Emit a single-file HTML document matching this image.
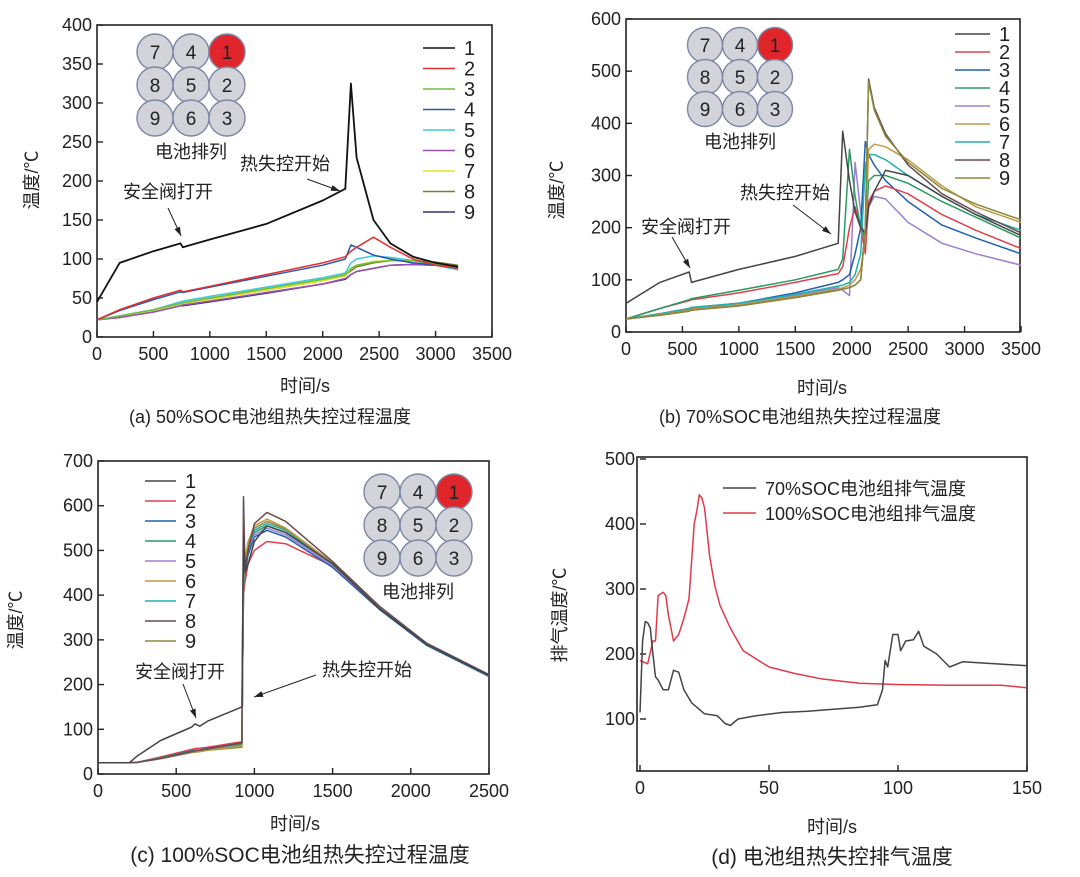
<!DOCTYPE html>
<html><head><meta charset="utf-8"><style>
body{margin:0;background:#fff;}
svg{display:block;font-family:"Liberation Sans","Noto Sans CJK SC",sans-serif;}
</style></head><body>
<svg id="fig" width="1080" height="877" viewBox="0 0 1080 877" xmlns="http://www.w3.org/2000/svg"></svg>
<script>
// ---- Panel a data (50% SOC) ----
const tA=[0,200,500,740,760,1000,1500,2000,2200,2250,2300,2450,2600,2800,3000,3200];
const a1=[45,95,110,120,115,125,145,175,190,325,230,150,120,103,95,90];
const a2=[22,35,50,60,58,65,80,95,103,110,115,128,115,100,92,88];
const a3=[22,27,35,43,44,50,62,74,80,88,92,96,98,98,94,88];
const a4=[22,34,48,58,57,64,78,92,100,118,115,105,100,95,92,88];
const a5=[22,27,35,45,46,52,64,76,82,95,100,104,102,98,92,86];
const a6=[22,25,32,40,41,46,57,68,75,80,84,88,92,93,92,88];
const a7=[22,26,33,42,43,48,60,72,78,88,92,97,98,97,94,90];
const a8=[22,26,34,42,43,49,60,72,79,85,90,95,98,98,96,92];
const a9=[22,25,32,40,40,45,56,68,74,80,84,88,92,93,92,90];
const aTicksX=[0,500,1000,1500,2000,2500,3000,3500];
const aTicksY=[0,50,100,150,200,250,300,350,400];
// ---- Panel b data (70% SOC) ----
const tB=[0,300,560,580,1000,1500,1880,1920,1980,2030,2080,2120,2150,2200,2300,2500,2800,3100,3500];
const b1=[55,95,115,95,120,145,170,385,290,230,200,190,240,270,310,300,260,225,185];
const b2=[25,45,60,62,75,95,112,125,200,240,200,150,250,270,280,265,225,195,160];
const b3=[25,35,45,47,55,75,95,100,110,150,200,365,340,320,290,250,205,180,150];
const b4=[25,45,62,64,80,100,120,140,350,260,200,180,290,300,300,285,250,220,180];
const b5=[25,33,43,45,55,70,85,80,70,325,230,160,240,260,255,210,170,150,128];
const b6=[25,33,42,44,52,68,82,85,90,100,120,180,350,360,355,330,280,240,210];
const b7=[25,35,45,47,55,72,88,90,95,110,150,320,340,340,330,300,260,225,195];
const b8=[25,32,40,42,50,66,80,82,85,90,100,200,485,430,380,320,265,230,190];
const b9=[25,32,40,42,50,66,80,82,85,90,100,200,480,425,375,325,275,245,215];
const bTicksX=[0,500,1000,1500,2000,2500,3000,3500];
const bTicksY=[0,100,200,300,400,500,600];
// ---- Panel c data (100% SOC) ----
const tC=[0,200,250,400,600,620,650,700,920,930,940,960,1000,1080,1200,1500,1800,2100,2500];
const c1=[25,25,40,75,105,112,107,118,150,530,450,470,520,555,540,470,370,290,220];
const c2=[25,25,26,38,55,57,58,60,72,400,430,470,500,520,515,465,370,290,220];
const c3=[25,25,26,36,52,53,54,57,68,420,450,490,530,545,530,462,368,288,218];
const c4=[25,25,26,36,51,52,53,56,66,430,460,500,540,555,540,470,374,292,222];
const c5=[25,25,26,35,50,51,52,55,64,440,470,505,535,550,535,466,371,290,220];
const c6=[25,25,26,34,49,50,51,54,62,450,480,520,555,570,550,472,373,291,221];
const c7=[25,25,26,35,50,51,52,55,63,440,470,510,545,560,545,470,372,290,220];
const c8=[25,25,26,35,50,52,53,56,70,620,460,500,560,585,565,475,375,293,222];
const c9=[25,25,26,34,48,49,50,53,60,445,475,515,550,565,548,472,374,292,222];
const cTicksX=[0,500,1000,1500,2000,2500];
const cTicksY=[0,100,200,300,400,500,600,700];
// ---- Panel d data (exhaust temperature) ----
const tD70=[0,1,2,3,4,5,6,7,9,11,13,15,17,20,25,30,33,35,38,45,55,65,75,85,92,94,95,96,98,100,101,103,106,108,110,115,120,125,150];
const d70=[110,220,250,248,240,200,165,160,145,145,175,172,145,125,108,105,93,90,100,105,110,112,115,118,122,145,190,180,230,230,205,220,222,235,212,200,180,188,182];
const tD100=[0,3,5,6,7,9,10,11,12,13,15,17,19,21,22,23,24,25,27,29,31,35,40,50,60,70,85,100,120,140,150];
const d100=[190,185,220,220,290,295,290,260,240,220,230,255,285,400,420,445,440,425,350,305,275,240,205,180,170,162,155,153,152,152,148];
const dTicksX=[0,50,100,150];
const dTicksY=[100,200,300,400,500];

const NS="http://www.w3.org/2000/svg";
const svg=document.getElementById('fig');
function mk(tag,attrs,parent){const e=document.createElementNS(NS,tag);for(const k in attrs)e.setAttribute(k,attrs[k]);(parent||svg).appendChild(e);return e;}
function txt(x,y,s,size,anchor,parent){const t=mk('text',{x:x,y:y,'font-size':size,'text-anchor':anchor||'middle',fill:'#222'},parent);t.textContent=s;return t;}

function panel(id,box,xd,yd,ticksX,ticksY,xTitle,yTitle,yTitlePos,xTitlePos){
  const g=mk('g',{});
  
  
  const X=v=>box.x0+(v-xd[0])/(xd[1]-xd[0])*(box.x1-box.x0);
  const Y=v=>box.y0-(v-yd[0])/(yd[1]-yd[0])*(box.y0-box.y1);
  const r=mk('rect',{x:box.x0,y:box.top,width:box.x1r-box.x0,height:box.bottom-box.top,fill:'none',stroke:'#222','stroke-width':1.6},g);
  
  
  ticksX.forEach(v=>{mk('line',{x1:X(v),x2:X(v),y1:box.bottom,y2:box.bottom-6,stroke:'#222','stroke-width':1.4},g);
    const t=txt(X(v),box.bottom+23,String(v),18,'middle',g);});
  ticksY.forEach(v=>{mk('line',{x1:box.x0,x2:box.x0+6,y1:Y(v),y2:Y(v),stroke:'#222','stroke-width':1.4},g);
    const t=txt(box.x0-5,Y(v)+6,String(v),18,'end',g);});
  const xt=txt(xTitlePos[0],xTitlePos[1],xTitle,18,'middle',g);
  
  const yt=txt(0,0,yTitle,18,'middle',g);
  yt.setAttribute('transform','translate('+yTitlePos[0]+','+yTitlePos[1]+') rotate(-90)');
  
  return {g,X,Y};
}
function series(p,ts,vs,color,name,w){
  const d=ts.map((t,i)=>(i?'L':'M')+p.X(t).toFixed(1)+','+p.Y(vs[i]).toFixed(1)).join('');
  const e=mk('path',{d:d,fill:'none',stroke:color,'stroke-width':w||1.5,'stroke-linejoin':'round'},p.g);
  
  
}
function legend(g,x,y0,step,labels,colors,len,size){
  labels.forEach((l,i)=>{const y=y0+i*step;
    const ln=mk('line',{x1:x,x2:x+len,y1:y,y2:y,stroke:colors[i],'stroke-width':1.6},g);
    
    const t=txt(x+len+9,y+7,l,size||20,'start',g);
    });
}
function cells(g,cx,cy,step){
  const nums=[['7','4','1'],['8','5','2'],['9','6','3']];
  for(let r=0;r<3;r++)for(let c=0;c<3;c++){
    const red=nums[r][c]==='1';
    const ci=mk('circle',{cx:cx+c*step,cy:cy+r*(step-3),r:step/2,fill:red?'#e0262a':'#d2d4da',stroke:'#7c87a6','stroke-width':1.4},g);
    
    txt(cx+c*step,cy+r*(step-3)+7,nums[r][c],19,'middle',g);
  }
  const t=txt(cx+step,cy+2*(step-3)+step+4,'电池排列',18,'middle',g);
  
}
function annot(g,x,y,s,ax1,ay1,ax2,ay2){
  const t=txt(x,y,s,18,'start',g);
  const l=mk('line',{x1:ax1,y1:ay1,x2:ax2,y2:ay2,stroke:'#222','stroke-width':1},g);
  
  const ang=Math.atan2(ay2-ay1,ax2-ax1),L=9,W=3;
  const p=[[ax2,ay2],[ax2-L*Math.cos(ang)+W*Math.sin(ang),ay2-L*Math.sin(ang)-W*Math.cos(ang)],[ax2-L*Math.cos(ang)-W*Math.sin(ang),ay2-L*Math.sin(ang)+W*Math.cos(ang)]];
  mk('polygon',{points:p.map(q=>q.join(',')).join(' '),fill:'#222'},g);
}
function caption(x,y,s,size){const t=txt(x,y,s,size,'middle');}

// Panel a
const colA=['#111','#e03030','#6cc040','#2a56b0','#40c8d8','#9a50b0','#e8e030','#7a7a30','#3a3070'];
const pa=panel('a',{x0:97,x1:492,x1r:492,y0:337,y1:25,top:25,bottom:337},[0,3500],[0,400],aTicksX,aTicksY,'时间/s','温度/℃',[38,180],[305,392]);
[a9,a8,a7,a6,a5,a3,a4,a2].forEach((s,i)=>series(pa,tA,s,colA[[8,7,6,5,4,2,3,1][i]],'series-a-'+([9,8,7,6,5,3,4,2][i])));
series(pa,tA,a1,colA[0],'series-a-1',1.8);
cells(pa.g,155,52,36);
legend(pa.g,423,48,20.5,['1','2','3','4','5','6','7','8','9'],colA,32,20);
annot(pa.g,123,198,'安全阀打开',168,208,181,236);
annot(pa.g,240,170,'热失控开始',307,179,340,191);
caption(270,423,'(a) 50%SOC电池组热失控过程温度',18);

// Panel b
const colB=['#444','#e04050','#2060b0','#2a9a60','#9a80d0','#c09a40','#20b0b0','#6a4a50','#8a8a40'];
const pb=panel('b',{x0:626,x1:1021,x1r:1020,y0:332,y1:19,top:19,bottom:332},[0,3500],[0,600],bTicksX,bTicksY,'时间/s','温度/℃',[563,190],[822,394]);
[b5,b3,b2,b4,b7,b6,b1,b8,b9].forEach((s,i)=>series(pb,tB,s,colB[[4,2,1,3,6,5,0,7,8][i]],'series-b-'+([5,3,2,4,7,6,1,8,9][i])));
cells(pb.g,705,45,35);
legend(pb.g,955,34,18,['1','2','3','4','5','6','7','8','9'],colB,35,20);
annot(pb.g,740,199,'热失控开始',793,205,831,234);
annot(pb.g,641,233,'安全阀打开',672,237,690,268);
caption(800,423,'(b) 70%SOC电池组热失控过程温度',18);

// Panel c
const pc=panel('c',{x0:98,x1:489,x1r:489,y0:774,y1:461,top:461,bottom:774},[0,2500],[0,700],cTicksX,cTicksY,'时间/s','温度/℃',[22,620],[295,830]);
[c2,c3,c4,c5,c7,c9,c6,c8,c1].forEach((s,i)=>series(pc,tC,s,colB[[1,2,3,4,6,8,5,7,0][i]],'series-c-'+([2,3,4,5,7,9,6,8,1][i])));
cells(pc.g,382,492,36);
legend(pc.g,145,481,20,['1','2','3','4','5','6','7','8','9'],colB,31,20);
annot(pc.g,135,678,'安全阀打开',183,684,196,718);
annot(pc.g,322,676,'热失控开始',316,675,254,697);
caption(300,862,'(c) 100%SOC电池组热失控过程温度',21);

// Panel d
const pd=panel('d',{x0:640,x1:1027,x1r:1027,y0:784,y1:459,top:457,bottom:771},[0,150],[0,500],dTicksX,dTicksY,'时间/s','排气温度/℃',[566,615],[832,833]);
pd.g.querySelector('rect').setAttribute('x',637);
pd.g.querySelector('rect').setAttribute('width',390);
series(pd,tD100,d100,'#e03a48','series-d-100soc');
series(pd,tD70,d70,'#444','series-d-70soc');
legend(pd.g,723,488,25,['70%SOC电池组排气温度','100%SOC电池组排气温度'],['#444','#e03a48'],33,18);
caption(832,864,'(d) 电池组热失控排气温度',21);
</script>
</body></html>
